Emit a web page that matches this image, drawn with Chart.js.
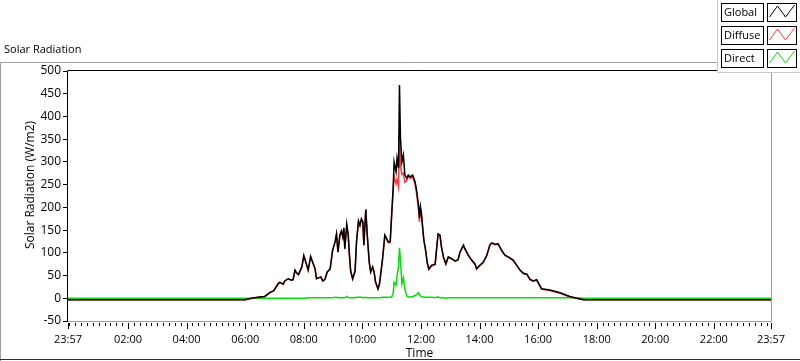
<!DOCTYPE html>
<html>
<head>
<meta charset="utf-8">
<script src="https://cdn.jsdelivr.net/npm/chart.js@4.4.1/dist/chart.umd.min.js"></script>
<style>
    html, body { margin: 0; padding: 0; background: #fff; }
    canvas { display: block; }
</style>
</head>
<body>
<canvas id="solar-chart" width="800" height="361"></canvas>
<script>
// Horários das leituras (eixo vai de 23:57 até 23:57 do dia seguinte)
const times = [
    '23:57', '06:00', '06:13', '06:30', '06:40', '06:51', '06:58', '07:08', '07:11', '07:18',
    '07:21', '07:28', '07:35', '07:38', '07:42', '07:45', '07:49', '07:56', '08:00', '08:04',
    '08:09', '08:14', '08:18', '08:23', '08:26', '08:30', '08:35', '08:39', '08:43', '08:48',
    '08:54', '08:59', '09:04', '09:07', '09:10', '09:14', '09:17', '09:20', '09:22', '09:24',
    '09:28', '09:31', '09:33', '09:36', '09:40', '09:45', '09:48', '09:52', '09:55', '09:58',
    '10:01', '10:03', '10:07', '10:10', '10:14', '10:17', '10:21', '10:24', '10:27', '10:32',
    '10:35', '10:41', '10:46', '10:50', '10:53', '10:57', '11:00', '11:03', '11:05', '11:09',
    '11:11', '11:14', '11:16', '11:18', '11:21', '11:24', '11:27', '11:31', '11:34', '11:38',
    '11:43', '11:48', '11:51', '11:55', '11:57', '11:59', '12:01', '12:04', '12:06', '12:09',
    '12:13', '12:16', '12:22', '12:29', '12:32', '12:35', '12:39', '12:42', '12:46', '12:51',
    '12:56', '13:03', '13:10', '13:16', '13:20', '13:27', '13:30', '13:37', '13:44', '13:51',
    '13:54', '14:01', '14:08', '14:15', '14:21', '14:25', '14:32', '14:38', '14:45', '14:52',
    '14:59', '15:09', '15:16', '15:23', '15:30', '15:37', '15:43', '15:50', '15:57', '16:07',
    '16:24', '16:45', '17:05', '17:19', '17:33', '23:57'
];

// Radiação global (W/m2)
const globalVals = [
    -3, -3, 0, 3, 4, 13, 16, 33, 35, 31,
    38, 43, 40, 41, 62, 56, 52, 69, 94, 80,
    62, 92, 80, 65, 43, 45, 47, 38, 41, 58,
    65, 106, 124, 142, 102, 140, 148, 135, 155, 109,
    163, 140, 102, 60, 43, 60, 125, 170, 161, 175,
    168, 117, 196, 139, 80, 58, 69, 58, 36, 21,
    32, 84, 139, 131, 124, 125, 185, 242, 300, 278,
    308, 286, 469, 352, 300, 315, 271, 264, 271, 267,
    271, 256, 238, 205, 176, 201, 187, 150, 128, 110,
    78, 65, 73, 75, 109, 142, 139, 113, 91, 76,
    91, 87, 82, 85, 102, 117, 109, 95, 84, 75,
    65, 73, 80, 95, 117, 122, 119, 120, 106, 95,
    91, 84, 73, 62, 55, 53, 42, 38, 41, 21,
    18, 12, 4, 0, -3, -3
];

// Radiação difusa (W/m2)
const diffuseVals = [
    -3, -3, 0, 3, 4, 13, 16, 32, 35, 31,
    38, 43, 40, 41, 61, 56, 52, 69, 93, 80,
    62, 91, 80, 65, 43, 45, 46, 38, 41, 57,
    64, 105, 123, 140, 101, 139, 147, 134, 154, 108,
    159, 138, 101, 59, 42, 59, 123, 168, 159, 173,
    167, 116, 194, 138, 79, 57, 68, 57, 35, 20,
    31, 82, 137, 129, 122, 122, 182, 235, 268, 252,
    262, 245, 359, 290, 272, 275, 255, 259, 268, 264,
    267, 250, 230, 193, 168, 196, 183, 147, 125, 108,
    76, 63, 71, 74, 107, 139, 138, 112, 90, 75,
    90, 86, 81, 84, 101, 116, 108, 94, 83, 74,
    64, 72, 79, 94, 116, 121, 118, 119, 105, 94,
    90, 83, 72, 61, 54, 52, 41, 37, 40, 20,
    17, 11, 3, 0, -3, -3
];

// Radiação direta (W/m2)
const directVals = [
    0, 0, 0, 0, 0, 0, 0, 0, 0, 0,
    0, 0, 0, 0, 0, 0, 0, 0, 0, 0,
    1, 1, 1, 1, 1, 1, 1, 1, 1, 1,
    1, 1, 2, 2, 1, 1, 1, 1, 1, 1,
    4, 2, 1, 1, 1, 1, 2, 2, 2, 2,
    1, 1, 2, 1, 1, 1, 1, 1, 1, 1,
    1, 2, 2, 2, 2, 3, 3, 10, 35, 29,
    50, 69, 111, 84, 32, 45, 21, 5, 3, 3,
    4, 6, 8, 12, 8, 5, 4, 3, 3, 2,
    2, 2, 2, 1, 2, 3, 1, 1, 1, 0,
    1, 1, 1, 1, 1, 1, 1, 1, 1, 1,
    1, 1, 1, 1, 1, 1, 1, 1, 1, 1,
    1, 1, 1, 1, 1, 1, 1, 1, 1, 1,
    1, 1, 1, 1, 0, 0
];

// Rótulos do eixo X
const tickLabels = ['23:57', '02:00', '04:00', '06:00', '08:00', '10:00', '12:00',
    '14:00', '16:00', '18:00', '20:00', '22:00', '23:57'];

const seriesNames = ['Global', 'Diffuse', 'Direct'];
const seriesColors = ['#000000', '#ff3b3b', '#00e000'];

const FONT = "'Open Sans', 'Noto Sans', sans-serif";

// Converte 'HH:MM' em minutos desde 23:57
function toMin(s, i) {
    if (i === 0) return 0;
    const [h, m] = s.split(':').map(Number);
    return h * 60 + m + 3;
}

const tickVals = tickLabels.map(toMin);

function makePoints(vals) {
    return times.map((t, i) => ({ x: toMin(t, i), y: vals[i] }));
}

// Desenho do título, moldura, ticks menores e legenda
const decorPlugin = {
    id: 'decor',
    afterDraw(chart) {
        const ctx = chart.ctx;
        const a = chart.chartArea;
        const xs = chart.scales.x;
        ctx.save();

        // título
        ctx.fillStyle = '#000';
        ctx.font = '11px ' + FONT;
        ctx.textAlign = 'left';
        ctx.textBaseline = 'middle';
        ctx.fillText('Solar Radiation', 4, 50);

        // moldura externa
        ctx.lineWidth = 1;
        ctx.strokeStyle = '#a0a0a0';
        ctx.beginPath();
        ctx.moveTo(0.5, 361);
        ctx.lineTo(0.5, 62.5);
        ctx.lineTo(800, 62.5);
        ctx.stroke();
        ctx.strokeStyle = '#303030';
        ctx.beginPath();
        ctx.moveTo(0, 359.5);
        ctx.lineTo(800, 359.5);
        ctx.stroke();

        // moldura da área do gráfico
        ctx.strokeStyle = '#000';
        ctx.beginPath();
        ctx.moveTo(a.left - 0.5, a.bottom + 1);
        ctx.lineTo(a.left - 0.5, a.top - 0.5);
        ctx.lineTo(a.right + 1, a.top - 0.5);
        ctx.stroke();
        ctx.strokeStyle = '#a0a0a0';
        ctx.beginPath();
        ctx.moveTo(a.right + 0.5, a.top);
        ctx.lineTo(a.right + 0.5, a.bottom + 0.5);
        ctx.lineTo(a.left, a.bottom + 0.5);
        ctx.stroke();

        // ticks do eixo X (maiores e menores, a cada 12 min)
        ctx.strokeStyle = '#000';
        ctx.beginPath();
        for (let k = 0; k < 120; k++) {
            const v = 3 + k * 12;
            if (k > 0 && k % 10 === 0) continue;
            const px = Math.round(xs.getPixelForValue(v)) + 0.5;
            ctx.moveTo(px, a.bottom + 2);
            ctx.lineTo(px, a.bottom + 5);
        }
        tickVals.forEach(v => {
            const px = Math.round(xs.getPixelForValue(v)) + 0.5;
            ctx.moveTo(px, a.bottom + 2);
            ctx.lineTo(px, a.bottom + 8);
        });
        ctx.stroke();

        // títulos dos eixos
        ctx.fillStyle = '#000';
        ctx.font = '12px ' + FONT;
        ctx.textAlign = 'center';
        ctx.textBaseline = 'middle';
        ctx.fillText('Time', (a.left + a.right) / 2, 354);
        ctx.save();
        ctx.translate(31, 185);
        ctx.rotate(-Math.PI / 2);
        ctx.fillText('Solar Radiation (W/m2)', 0, 0);
        ctx.restore();

        // legenda
        ctx.fillStyle = '#fff';
        ctx.fillRect(717, 0, 83, 72);
        ctx.strokeStyle = '#c8c8c8';
        ctx.beginPath();
        ctx.moveTo(717.5, 0);
        ctx.lineTo(717.5, 72.5);
        ctx.lineTo(800, 72.5);
        ctx.stroke();

        const rowsY = [3, 26, 49];
        seriesNames.forEach((name, i) => {
            const y0 = rowsY[i];
            ctx.strokeStyle = '#000';
            ctx.strokeRect(721.5, y0 + 0.5, 42, 18);
            ctx.strokeRect(767.5, y0 + 0.5, 29, 18);
            ctx.fillStyle = '#000';
            ctx.font = '11px ' + FONT;
            ctx.textAlign = 'left';
            ctx.textBaseline = 'middle';
            ctx.fillText(name, 724, y0 + 10);
            ctx.strokeStyle = seriesColors[i];
            ctx.beginPath();
            ctx.moveTo(769.5, y0 + 14);
            ctx.lineTo(777.5, y0 + 3);
            ctx.lineTo(785.5, y0 + 14);
            ctx.lineTo(794.5, y0 + 2);
            ctx.stroke();
        });

        ctx.restore();
    }
};

const solarData = {
    datasets: seriesNames.map((name, i) => ({
        label: name,
        data: makePoints([globalVals, diffuseVals, directVals][i]),
        borderColor: seriesColors[i],
        borderWidth: 1.5,
        pointRadius: 0,
        fill: false,
        tension: 0
    }))
};

const solarConfig = {
    type: 'line',
    data: solarData,
    plugins: [decorPlugin],
    options: {
        responsive: false,
        devicePixelRatio: 1,
        animation: false,
        layout: { padding: { left: 0, top: 71, right: 29, bottom: 0 } },
        plugins: {
            legend: { display: false },
            tooltip: { enabled: false }
        },
        scales: {
            x: {
                type: 'linear',
                min: 0,
                max: 1440,
                afterBuildTicks: s => { s.ticks = tickVals.map(v => ({ value: v })); },
                afterFit: s => { s.height = 40; },
                grid: { display: false },
                border: { display: false },
                ticks: {
                    autoSkip: false,
                    maxRotation: 0,
                    padding: 4,
                    color: '#000',
                    font: { family: FONT, size: 11 },
                    callback: v => tickLabels[tickVals.indexOf(v)]
                }
            },
            y: {
                min: -50,
                max: 500,
                afterFit: s => { s.width = 68; },
                grid: { drawOnChartArea: false, drawTicks: true, tickLength: 5, color: '#000' },
                border: { display: false },
                ticks: {
                    stepSize: 50,
                    padding: 2,
                    color: '#000',
                    font: { family: FONT, size: 12 }
                }
            }
        }
    }
};

new Chart(document.getElementById('solar-chart'), solarConfig);
</script>
</body>
</html>
